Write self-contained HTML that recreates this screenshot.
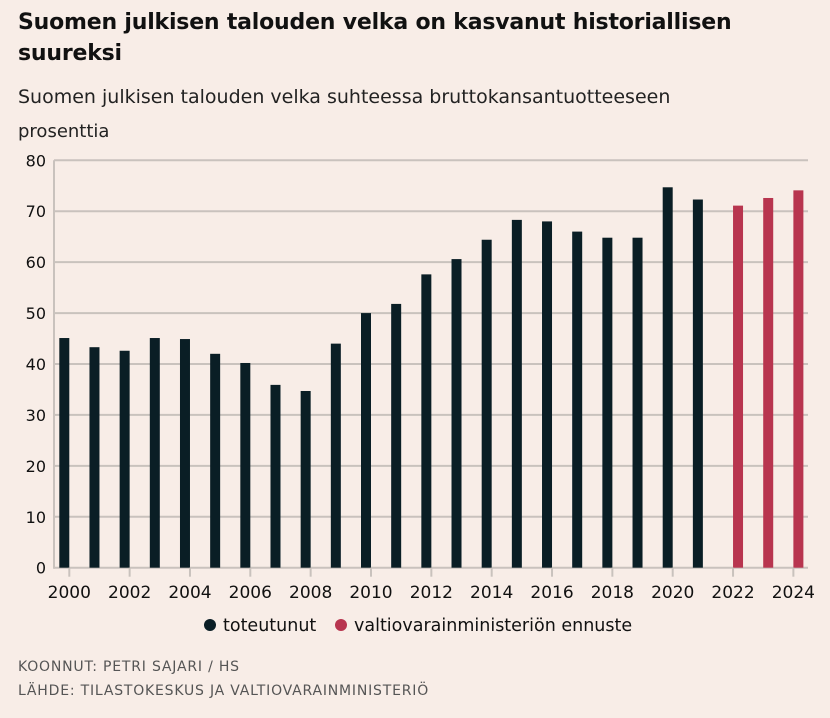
<!DOCTYPE html>
<html><head><meta charset="utf-8"><style>
body{margin:0;width:830px;height:718px;background:#f8ede7;font-family:"DejaVu Sans","Liberation Sans",sans-serif;color:#111;overflow:hidden;position:relative}
.t{position:absolute;left:18px;margin:0;white-space:nowrap}
</style></head><body>
<h1 class="t" style="top:7px;font-size:22px;line-height:31px;font-weight:bold;letter-spacing:-0.2px">Suomen julkisen talouden velka on kasvanut historiallisen<br>suureksi</h1>
<div class="t" style="top:86px;font-size:19px;color:#222">Suomen julkisen talouden velka suhteessa bruttokansantuotteeseen</div>
<div class="t" style="top:121px;font-size:18px;color:#222">prosenttia</div>
<svg id="chart" width="830" height="718" style="position:absolute;left:0;top:0" font-family="DejaVu Sans, Liberation Sans, sans-serif"></svg>
<div class="t" style="top:659px;font-size:14px;letter-spacing:0.8px;color:#555">KOONNUT: PETRI SAJARI / HS</div>
<div class="t" style="top:683px;font-size:14px;letter-spacing:0.8px;color:#555">LÄHDE: TILASTOKESKUS JA VALTIOVARAINMINISTERIÖ</div>
<script>
const years=[2000,2001,2002,2003,2004,2005,2006,2007,2008,2009,2010,2011,2012,2013,2014,2015,2016,2017,2018,2019,2020,2021,2022,2023,2024];
const values=[45.1,43.3,42.6,45.1,44.9,42.0,40.2,35.9,34.7,44.0,50.0,51.8,57.6,60.6,64.4,68.3,68.0,66.0,64.8,64.8,74.7,72.3,71.1,72.6,74.1];
const forecast=[0,0,0,0,0,0,0,0,0,0,0,0,0,0,0,0,0,0,0,0,0,0,1,1,1];
const yTicks=[0,10,20,30,40,50,60,70,80];
const xTicks=[2000,2002,2004,2006,2008,2010,2012,2014,2016,2018,2020,2022,2024];
const NS='http://www.w3.org/2000/svg';
const svg=document.getElementById('chart');
const y0=567.7,y80=160.3,xL=54,xR=808;
const y=v=>y0-(v/80)*(y0-y80);
const x=yr=>69.3+(yr-2000)*30.17;
function mk(tag,attrs){const e=document.createElementNS(NS,tag);for(const k in attrs)e.setAttribute(k,attrs[k]);svg.appendChild(e);return e;}
yTicks.forEach(v=>{
 const l=mk('line',{x1:xL,x2:xR,y1:y(v),y2:y(v),stroke:'#c9c2bd','stroke-width':2});
 
 
 const t=mk('text',{x:46,y:y(v)+6,'text-anchor':'end','font-size':16,fill:'#111'});t.textContent=v;
 
 
});
const ax=mk('line',{x1:xL,x2:xL,y1:y80,y2:y0+1,stroke:'#c9c2bd','stroke-width':2});


years.forEach((yr,i)=>{
 const f=forecast[i];const cx=x(yr)+(f?5:-5);
 const r=mk('rect',{x:cx-5,y:y(values[i]),width:10,height:y0-y(values[i]),fill:f?'#b8354f':'#0a1e25'});
 
 
});
xTicks.forEach(yr=>{
 const l=mk('line',{x1:x(yr),x2:x(yr),y1:y0,y2:y0+9,stroke:'#c9c2bd','stroke-width':2});
 
 
 const t=mk('text',{x:x(yr),y:598,'text-anchor':'middle','font-size':17,fill:'#111'});t.textContent=yr;
 
 
});
const legend=[['toteutunut','#0a1e25',210],['valtiovarainministeriön ennuste','#b8354f',341]];
legend.forEach(([lab,c,lx])=>{
 const d=mk('circle',{cx:lx,cy:625,r:6,fill:c});
 
 
 const t=mk('text',{x:lx+13,y:631,'font-size':17.5,fill:'#111'});t.textContent=lab;
 
 
});
</script>
</body></html>
